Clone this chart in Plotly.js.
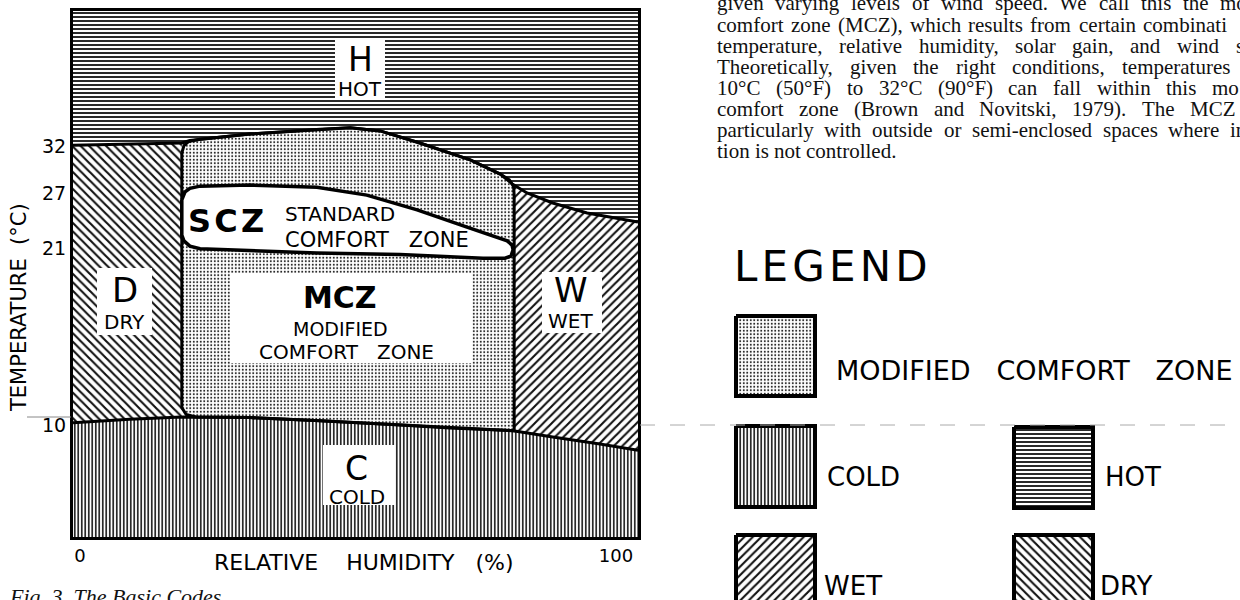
<!DOCTYPE html>
<html><head><meta charset="utf-8">
<script src="https://cdn.plot.ly/plotly-3.0.1.min.js"></script>
<style>html,body{margin:0;padding:0;background:#fff;}#chart{width:1240px;height:600px;}</style>
</head><body><div id="chart"></div>
<script>
// ================= DATA =================
// y axis is a schematic scale (the original diagram is not linear in temperature)
const yTickLabels = ['10', '21', '27', '32'];
const yTickPos    = [21.3, 54.9, 65.4, 74.3];
const xTickLabels = ['0', '100'];
const xTickPos    = [0, 100];
const rhMin = -1.3, rhMax = 104.1;   // frame of the diagram (RH %)
const tMin = 0, tMax = 100;          // frame of the diagram (schematic units)

// boundary between HOT and the zones below (left edge -> right edge)
const hotLineRH = [-1.3, 19.0, 20.5, 22.4, 31.7, 44.8, 50.4, 56.0, 63.4, 72.8, 78.4, 80.8, 83.4, 88.2, 94.6, 104.1];
const hotLineT  = [74.5, 74.9, 75.4, 75.6, 76.6, 77.5, 77.8, 77.2, 74.9, 71.7, 69.0, 67.0, 65.4, 63.5, 61.6, 59.9];
// boundary between COLD and the zones above
const coldLineRH = [-1.3, 9.3, 19.0, 31.7, 44.8, 59.7, 69.0, 80.8, 88.2, 97.0, 104.1];
const coldLineT  = [21.7, 22.4, 22.8, 22.7, 22.1, 21.3, 20.7, 20.2, 19.0, 17.7, 16.5];
// dry / wet limits (RH)
const dryLimitRH = 19.0;
const wetLimitRH = 80.8;
// modified comfort zone outline
const mczRH = [19.0, 19.4, 20.3, 22.4, 31.7, 44.8, 50.4, 56.0, 63.4, 72.8, 78.4, 80.1, 80.9, 81.0, 81.0, 69.0, 59.7, 44.8, 31.7, 21.6, 19.8, 19.0];
const mczT  = [73.0, 74.4, 75.2, 75.6, 76.6, 77.5, 77.8, 77.2, 74.9, 71.7, 69.0, 67.9, 66.6, 65.0, 20.2, 20.7, 21.3, 22.1, 22.7, 22.8, 23.3, 24.6];
// standard comfort zone outline
const sczRH = [19.0, 19.6, 20.5, 22.4, 31.7, 44.2, 53.5, 62.9, 72.2, 79.7, 80.6, 80.8, 80.4, 79.3, 75.2, 59.7, 44.2, 31.7, 22.4, 20.5, 19.4, 19.0];
const sczT  = [64.1, 65.6, 66.3, 66.7, 66.9, 66.5, 65.0, 62.2, 58.9, 56.3, 55.5, 54.6, 53.4, 53.0, 53.0, 53.7, 54.0, 54.4, 54.8, 55.3, 56.3, 57.4];

const legendLabels = ['MODIFIED\u00a0\u00a0\u00a0COMFORT\u00a0\u00a0\u00a0ZONE', 'COLD', 'HOT', 'WET', 'DRY'];
const legendKeys   = ['mcz', 'cold', 'hot', 'wet', 'dry'];

const paraLines = [
  'given varying levels of wind speed. We call this the mo',
  'comfort zone (MCZ), which results from certain combinati',
  'temperature, relative humidity, solar gain, and wind s',
  'Theoretically, given the right conditions, temperatures',
  '10\u00b0C (50\u00b0F) to 32\u00b0C (90\u00b0F) can fall within this mo',
  'comfort zone (Brown and Novitski, 1979). The MCZ',
  'particularly with outside or semi-enclosed spaces where in',
  'tion is not controlled.'
];

// ================= STYLE / LAYOUT =================
const W = 1240, H = 600;
const plotL = 73, plotR = 638, plotT = 11, plotB = 537;
const X = px => rhMin + (px - plotL) / (plotR - plotL) * (rhMax - rhMin);
const Y = py => tMin + (plotB - py) / (plotB - plotT) * (tMax - tMin);
const PX = px => px / W, PY = py => 1 - py / H;
const NB = n => '\u00a0'.repeat(n);

const pats = {
  hot:  {shape: '-',  size: 4,   solidity: 0.45, fgcolor: '#111', bgcolor: '#fff'},
  cold: {shape: '|',  size: 3.5, solidity: 0.45, fgcolor: '#111', bgcolor: '#fff'},
  wet:  {shape: '/',  size: 6,   solidity: 0.35, fgcolor: '#111', bgcolor: '#fff'},
  dry:  {shape: '\\', size: 6,   solidity: 0.35, fgcolor: '#111', bgcolor: '#fff'},
  mcz:  {shape: '.',  size: 3.5, solidity: 0.25, fgcolor: '#222', bgcolor: '#fff'}
};
const sans = 'DejaVu Sans';

function region(x, y, key) {
  return {type: 'scatter', mode: 'lines', x: x, y: y, fill: 'toself', fillcolor: '#fff',
    fillpattern: pats[key], line: {width: 0, color: 'rgba(0,0,0,0)'}, hoverinfo: 'skip', showlegend: false};
}
function outline(x, y, w, close) {
  return {type: 'scatter', mode: 'lines', x: close ? x.concat([x[0]]) : x, y: close ? y.concat([y[0]]) : y,
    line: {width: w, color: '#000'}, hoverinfo: 'skip', showlegend: false};
}

// build polygons from the boundary arrays
const hotX = [rhMin, rhMax].concat(hotLineRH.slice().reverse());
const hotY = [tMax, tMax].concat(hotLineT.slice().reverse());
const coldX = coldLineRH.concat([rhMax, rhMin]);
const coldY = coldLineT.concat([tMin, tMin]);
const dryX = [], dryY = [], wetX = [], wetY = [];
hotLineRH.forEach((r, i) => { if (r <= dryLimitRH) { dryX.push(r); dryY.push(hotLineT[i]); } });
coldLineRH.map((r, i) => [r, coldLineT[i]]).reverse().forEach(p => { if (p[0] <= dryLimitRH) { dryX.push(p[0]); dryY.push(p[1]); } });
hotLineRH.forEach((r, i) => { if (r >= wetLimitRH) { wetX.push(r); wetY.push(hotLineT[i]); } });
coldLineRH.map((r, i) => [r, coldLineT[i]]).reverse().forEach(p => { if (p[0] >= wetLimitRH) { wetX.push(p[0]); wetY.push(p[1]); } });

const traces = [
  region(hotX, hotY, 'hot'),
  region(coldX, coldY, 'cold'),
  region(dryX, dryY, 'dry'),
  region(wetX, wetY, 'wet'),
  region(mczRH, mczT, 'mcz'),
  outline(mczRH, mczT, 3, true),
  Object.assign(outline(sczRH, sczT, 3.5, true), {fill: 'toself', fillcolor: '#fff'}),
  outline(hotLineRH, hotLineT, 3, false),
  outline(coldLineRH, coldLineT, 3, false)
];

// legend swatches (overlay axes in pixel units)
const swatchBoxes = {mcz: [736, 316, 815, 396], cold: [736, 426, 815, 507], hot: [1014, 427, 1093, 508],
                     wet: [736, 535, 815, 612], dry: [1014, 535, 1093, 612]};
const legendTextPos = {mcz: [836, 370], cold: [827, 477], hot: [1105, 477], wet: [824, 586], dry: [1100, 586]};
legendKeys.forEach(k => {
  const b = swatchBoxes[k];
  traces.push({type: 'scatter', mode: 'lines', xaxis: 'x2', yaxis: 'y2',
    x: [b[0], b[2], b[2], b[0], b[0]], y: [b[1], b[1], b[3], b[3], b[1]],
    fill: 'toself', fillcolor: '#fff', fillpattern: pats[k], line: {width: 4, color: '#000'},
    hoverinfo: 'skip', showlegend: false});
});

const shapes = [];
const boxes = [[335, 38, 385, 100], [97, 268, 152, 335], [542, 272, 602, 333], [230, 273, 472, 363], [323, 445, 395, 505]];
boxes.forEach(b => shapes.push({type: 'rect', xref: 'x', yref: 'y', layer: 'above',
  x0: X(b[0]), x1: X(b[2]), y0: Y(b[1]), y1: Y(b[3]), fillcolor: '#fff', line: {width: 0}}));
shapes.push({type: 'line', xref: 'paper', yref: 'paper', x0: PX(27), x1: PX(71), y0: PY(417), y1: PY(417), line: {color: '#888', width: 1}});
shapes.push({type: 'line', xref: 'paper', yref: 'paper', x0: PX(640), x1: PX(1240), y0: PY(425), y1: PY(425), line: {color: '#aaa', width: 1, dash: 'longdash'}});

const ann = [];
function lab(text, px, py, size, bold) {
  ann.push({text: bold ? '<b>' + text + '</b>' : text, x: X(px), y: Y(py), xref: 'x', yref: 'y', showarrow: false,
    xanchor: 'center', yanchor: 'middle', borderpad: 0, borderwidth: 0,
    font: {family: sans, size: size, color: '#000'}});
}
lab('H', 360, 60, 33); lab('HOT', 360, 89.5, 20);
lab('D', 125, 290, 34); lab('DRY', 124, 322, 20);
lab('W', 571, 290, 34); lab('WET', 570, 321, 20);
lab('MCZ', 340, 297, 30, true); lab('MODIFIED', 340, 329, 19); lab('COMFORT' + NB(3) + 'ZONE', 346, 352, 20);
lab('C', 356, 468, 33); lab('COLD', 357, 497, 20);
lab('S\u200aC\u200aZ', 226, 221, 32, true); lab('STANDARD', 340, 214, 20); lab('COMFORT' + NB(3) + 'ZONE', 377, 240, 21);

function paperText(text, px, py, size, xanchor, opts) {
  ann.push(Object.assign({text: text, x: PX(px), y: PY(py), xref: 'paper', yref: 'paper', showarrow: false,
    xanchor: xanchor, yanchor: 'middle', borderpad: 0, borderwidth: 0,
    font: {family: sans, size: size, color: '#000'}}, opts || {}));
}
// axis titles
paperText('RELATIVE' + NB(4) + 'HUMIDITY' + NB(3) + '(%)', 364, 562, 22, 'center');
paperText('TEMPERATURE' + NB(2) + '(\u00b0C)', 19, 308, 21, 'center', {textangle: -90});
paperText('<i>Fig. 3. The Basic Codes</i>', 9, 596, 21, 'left', {font: {family: 'Liberation Serif', size: 22, color: '#111'}});
// legend texts
paperText('L\u200aE\u200aG\u200aE\u200aN\u200aD', 734, 266, 42, 'left');
legendKeys.forEach((k, i) => paperText(legendLabels[i], legendTextPos[k][0], legendTextPos[k][1], k === 'mcz' ? 27 : 26, 'left'));

// justified paragraph (word by word)
const paraFont = 'Liberation Serif', paraSize = 21;
const paraX0 = 717;
const paraLastStart = [1220, 1143, 1236, 1122, 1212, 1190, 1230, null];
const paraY = [3, 25, 46, 67, 88, 109, 130, 151];
const ctx = document.createElement('canvas').getContext('2d');
ctx.font = paraSize + 'px "' + paraFont + '"';
paraLines.forEach((line, li) => {
  const words = line.split(' ');
  const widths = words.map(w => ctx.measureText(w).width);
  let gap = ctx.measureText(' ').width;
  if (paraLastStart[li] !== null && words.length > 1) {
    const sum = widths.slice(0, -1).reduce((a, b) => a + b, 0);
    gap = (paraLastStart[li] - paraX0 - sum) / (words.length - 1);
  }
  let x = paraX0;
  words.forEach((w, wi) => {
    paperText(w, x, paraY[li], paraSize, 'left', {font: {family: paraFont, size: paraSize, color: '#111'}});
    x += widths[wi] + gap;
  });
});

const layout = {
  width: W, height: H, margin: {l: 0, r: 0, t: 0, b: 0}, paper_bgcolor: '#fff', plot_bgcolor: 'rgba(0,0,0,0)',
  showlegend: false,
  xaxis: {domain: [plotL / W, plotR / W], range: [rhMin, rhMax], tickvals: xTickPos, ticktext: xTickLabels,
    showgrid: false, zeroline: false, showline: true, mirror: true, linewidth: 3, linecolor: '#000', ticks: '',
    tickfont: {family: sans, size: 18, color: '#000'}, fixedrange: true},
  yaxis: {domain: [1 - plotB / H, 1 - plotT / H], range: [tMin, tMax], tickvals: yTickPos, ticktext: yTickLabels,
    showgrid: false, zeroline: false, showline: true, mirror: true, linewidth: 3, linecolor: '#000', ticks: '',
    tickfont: {family: sans, size: 19, color: '#000'}, fixedrange: true},
  xaxis2: {domain: [0, 1], range: [0, W], visible: false, anchor: 'y2', fixedrange: true},
  yaxis2: {domain: [0, 1], range: [H, 0], visible: false, anchor: 'x2', fixedrange: true},
  shapes: shapes, annotations: ann
};
Plotly.newPlot('chart', traces, layout, {staticPlot: true, displayModeBar: false});
</script></body></html>
